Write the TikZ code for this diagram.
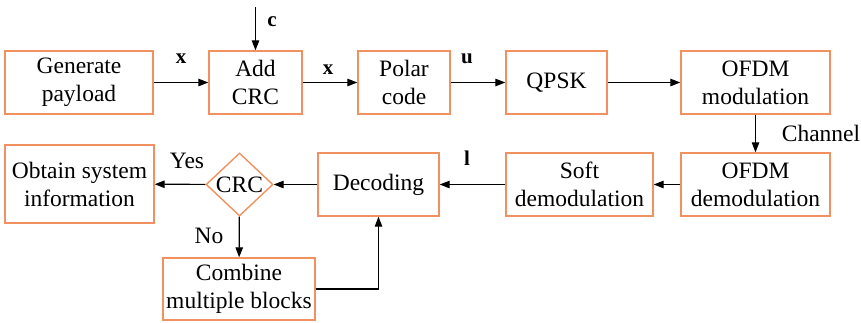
\documentclass[tikz,border=0pt]{standalone}
\usepackage{fontspec}
\setmainfont{Liberation Serif}
\usetikzlibrary{shapes.geometric,arrows.meta}
\definecolor{boxor}{RGB}{240,145,95}
\begin{document}
\begin{tikzpicture}[x=1pt,y=-1pt,
  blk/.style={draw=boxor,line width=1.4pt,minimum height=63pt,inner sep=0pt,align=center,
    font=\rmfamily\fontsize{23.5}{28}\selectfont},
  dia/.style={draw=boxor,line width=1.4pt,diamond,minimum width=67pt,minimum height=63pt,inner sep=0pt,
    font=\rmfamily\fontsize{23.5}{28}\selectfont},
  arr/.style={line width=1.2pt,-{Triangle[length=10pt,width=7.5pt]}},
  lab/.style={font=\rmfamily\fontsize{23.5}{28}\selectfont},
  blab/.style={font=\rmfamily\fontsize{21}{24}\selectfont\bfseries}]
\useasboundingbox (0,0) rectangle (861,322);
\node[blk,minimum width=148pt] (gen) at (79,82.5) {Generate\\payload};
\node[blk,minimum width=93pt] (add) at (255.5,82.5) {Add\\CRC};
\node[blk,minimum width=92pt] (pol) at (404,82.5) {Polar\\code};
\node[blk,minimum width=101pt] (qpsk) at (556.5,82.5) {QPSK};
\node[blk,minimum width=149pt] (ofm) at (755.5,82.5) {OFDM\\modulation};
\node[blk,minimum width=149pt] (ofd) at (755.5,184.5) {OFDM\\demodulation};
\node[blk,minimum width=147pt] (soft) at (579.5,184.5) {Soft\\demodulation};
\node[blk,minimum width=121pt] (dec) at (378.5,184.5) {Decoding};
\node[dia] (crc) at (239.5,184.5) {CRC};
\node[blk,minimum width=149pt,minimum height=78pt] (obt) at (79.5,184) {Obtain system\\information};
\node[blk,minimum width=152pt,minimum height=62pt] (comb) at (239,289) {Combine\\multiple blocks};
\coordinate (ctop) at (255.5,7);
\draw[arr] (ctop) -- (add.north);
\draw[arr] (gen) -- (add);
\draw[arr] (add) -- (pol);
\draw[arr] (pol) -- (qpsk);
\draw[arr] (qpsk) -- (ofm);
\draw[arr] (ofm) -- (ofd);
\draw[arr] (ofd) -- (soft);
\draw[arr] (soft) -- (dec);
\draw[arr] (dec) -- (crc);
\draw[arr] (crc) -- (obt);
\draw[arr] (crc) -- (comb);
\draw[arr] (comb.east) -| (dec.south);
\node[blab] (lc) at (272,22) {c};
\node[blab] (lx1) at (181,59) {x};
\node[blab] (lx2) at (328,70) {x};
\node[blab] (lu) at (467,59) {u};
\node[blab] (ll) at (467,158) {l};
\node[lab] (lch) at (821,133) {Channel};
\node[lab] (lyes) at (187,161) {Yes};
\node[lab] (lno) at (209,236) {No};
\end{tikzpicture}
\end{document}
